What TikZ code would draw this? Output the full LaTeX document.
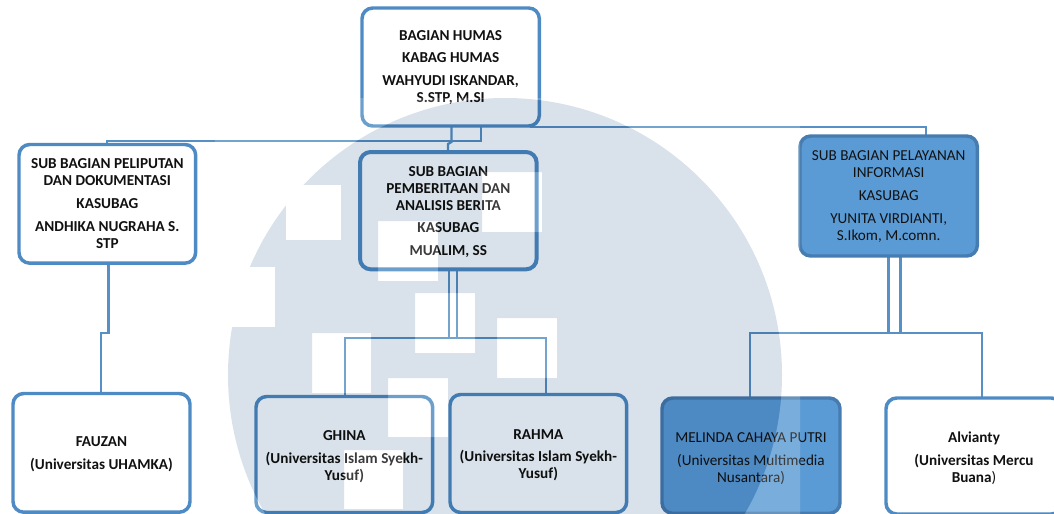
\documentclass[tikz,border=0pt]{standalone}
\usepackage{fontspec}
\setmainfont{Carlito}
\definecolor{lineblue}{HTML}{4E8AC3}
\definecolor{connblue}{HTML}{5690C4}
\definecolor{fillblue}{HTML}{5B9BD5}
\definecolor{wmblue}{HTML}{D9E2EA}
\definecolor{inktext}{HTML}{111111}
\newcommand{\boxtext}[2]{\raisebox{0pt}[\dimexpr\height+#1+#1\relax][\depth]{\begin{tabular}{@{}c@{}}#2\end{tabular}}}
\newcommand{\para}{\\[4.4pt]}
\tikzset{
  x=0.75pt,y=-0.75pt,
  orgbox/.style={draw=lineblue,line width=2.6pt,rounded corners=8pt,fill=white,inner sep=0pt,outer sep=0pt,font=\fontsize{11.4pt}{12.7pt}\selectfont\bfseries,text=inktext,anchor=north west},
  orgfill/.style={orgbox,fill=fillblue,font=\fontsize{11.4pt}{12.7pt}\selectfont,draw=lineblue!90!black},
  conn/.style={draw=connblue,line width=1.7pt},
}
\begin{document}
\begin{tikzpicture}
\useasboundingbox (0,0) rectangle (1054,514);
% connectors
\coordinate (tl) at (481,126);
\draw[conn] (tl) -- (481,141) -- (107,141) -- (107,144);
\draw[conn] (451.5,117) -- (451.5,142) -- (448,144) -- (448,152);
\draw[conn] (530,127) -- (926,127) -- (926,136);
\draw[conn] (449,269) -- (449,338);
\draw[conn] (457,269) -- (457,338);
\draw[conn] (345,396) -- (345,338) -- (546,338) -- (546,394);
\draw[conn] (888.5,256) -- (888.5,333);
\draw[conn] (900.5,256) -- (900.5,333);
\draw[conn] (750,398) -- (750,333) -- (982,333) -- (982,397);
\draw[conn] (108.5,263) -- (108.5,333) -- (101,333) -- (101,394);
% boxes
\node[orgbox,minimum width=133pt,minimum height=88.5pt] (top) at (362,8) {\boxtext{0.75pt}{BAGIAN HUMAS\para KABAG HUMAS\para WAHYUDI ISKANDAR,\\S.STP, M.SI}};
\node[orgbox,minimum width=132.5pt,minimum height=89pt] (peliput) at (19,144.5) {\boxtext{1.1pt}{SUB BAGIAN PELIPUTAN\\DAN DOKUMENTASI\para KASUBAG\para ANDHIKA NUGRAHA S.\\STP}};
\node[orgbox,line width=3pt,minimum width=132.5pt,minimum height=88pt] (berita) at (360,152) {\boxtext{1.5pt}{SUB BAGIAN\\PEMBERITAAN DAN\\ANALISIS BERITA\para KASUBAG\para MUALIM, SS}};
\node[orgfill,minimum width=133pt,minimum height=90pt] (layan) at (800,136) {\boxtext{0.75pt}{SUB BAGIAN PELAYANAN\\INFORMASI\para KASUBAG\para YUNITA VIRDIANTI,\\S.Ikom, M.comn.}};
\node[orgbox,minimum width=132.75pt,minimum height=89pt] (fauzan) at (13,393.5) {\boxtext{1.5pt}{FAUZAN\para (Universitas UHAMKA)}};
\node[orgbox,minimum width=132.5pt,minimum height=87pt] (ghina) at (256,396.5) {\boxtext{1.9pt}{GHINA\para (Universitas Islam Syekh-\\Yusuf)}};
\node[orgbox,minimum width=132.5pt,minimum height=88.5pt] (rahma) at (450,394.5) {\boxtext{1.5pt}{RAHMA\para (Universitas Islam Syekh-\\Yusuf)}};
\node[orgfill,minimum width=133.5pt,minimum height=86.5pt] (melinda) at (662,398) {\boxtext{2.6pt}{MELINDA CAHAYA PUTRI\para (Universitas Multimedia\\Nusantara)}};
\node[orgbox,minimum width=132pt,minimum height=87pt] (alvi) at (886,398) {\boxtext{2.6pt}{Alvianty\para (Universitas Mercu\\Buana{\mdseries)}}};
% watermark: veil outside the disc and in its squares
\fill[white,opacity=0.18,even odd rule] (215,98) rectangle (800,514)
  (505,375) circle[radius=277]
  (378,221) rectangle (438,281)
  (482,172) rectangle (542,232)
  (415,293) rectangle (475,353)
  (497,318) rectangle (557,378)
  (312,333) rectangle (371,393)
  (388,378) rectangle (448,437)
  (344,450) rectangle (403,509);
\begin{scope}[blend mode=multiply]
\clip (0,0) rectangle (1054,514);
\fill[wmblue,even odd rule] (505,375) circle[radius=277]
  (378,221) rectangle (438,281)
  (482,172) rectangle (542,232)
  (415,293) rectangle (475,353)
  (497,318) rectangle (557,378)
  (312,333) rectangle (371,393)
  (388,378) rectangle (448,437)
  (344,450) rectangle (403,509);
\end{scope}
\fill[white] (215,267) rectangle (275,327);
\fill[white] (286,185) rectangle (341,240);
\end{tikzpicture}
\end{document}
